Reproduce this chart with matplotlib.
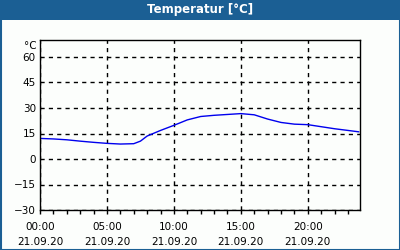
import numpy as np
import matplotlib
matplotlib.use('Agg')
from matplotlib import pyplot as plt
from matplotlib.patches import Rectangle

# hours since 21.09.20 00:00 and temperature in degC
hours = [0, 1, 2, 3, 4, 5, 6, 7, 7.5, 8, 9, 10, 11, 12, 13, 14, 15,
         16, 17, 18, 19, 20, 21, 22, 23, 23.8]
temps = [12.1, 11.8, 11.3, 10.5, 9.8, 9.2, 8.8, 9.0, 10.5, 13.5, 16.8, 19.8,
         23.0, 25.0, 25.7, 26.2, 26.7, 26.0, 23.5, 21.5, 20.5, 20.2, 19.0,
         17.8, 16.8, 16.0]
x_ticks = [0, 5, 10, 15, 20]
x_labels = ['00:00\n21.09.20', '05:00\n21.09.20', '10:00\n21.09.20',
            '15:00\n21.09.20', '20:00\n21.09.20']
y_ticks = [-30, -15, 0, 15, 30, 45, 60]
title = 'Temperatur [°C]'
unit = '°C'

W, H = 400, 250
fig = plt.figure(figsize=(W / 100, H / 100), dpi=100, facecolor='#fcfefc')

# title bar and frame
blue = '#1b5f94'
fig.patches.append(Rectangle((0, 1 - 20 / H), 1, 20 / H, transform=fig.transFigure,
                             facecolor=blue, edgecolor='none'))
fig.patches.append(Rectangle((0.5 / W, 0.5 / H), 1 - 1 / W, 1 - 1 / H,
                             transform=fig.transFigure, facecolor='none',
                             edgecolor=blue, linewidth=1.5))
fig.text(0.5, 1 - 10 / H, title, color='white', fontsize=8.5, fontweight='bold',
         ha='center', va='center')

ax = fig.add_axes([40 / W, 1 - 210 / H, 320 / W, 170 / H])
ax.set_facecolor('#fcfefc')
ax.plot(hours, temps, color='#0000ee', linewidth=1.0)
ax.set_xlim(0, 23.9)
ax.set_ylim(-30, 70)
ax.set_xticks(x_ticks)
ax.set_xticklabels(x_labels, linespacing=1.6)
ax.set_xticks(np.arange(0, 24, 1), minor=True)
ax.set_yticks(y_ticks)
ax.grid(True, color='black', linestyle=(0, (3, 3)), linewidth=1.0)
ax.tick_params(axis='x', which='both', direction='out', length=3, width=1,
               labelsize=7.5, pad=6)
ax.tick_params(axis='y', length=0, labelsize=7.5, pad=3)
for s in ax.spines.values():
    s.set_linewidth(1.0)
    s.set_color('black')
ax.text(-0.012, 0.965, unit, transform=ax.transAxes, ha='right', va='center',
        fontsize=7.5)

fig.savefig('out.png', dpi=100, facecolor=fig.get_facecolor())
